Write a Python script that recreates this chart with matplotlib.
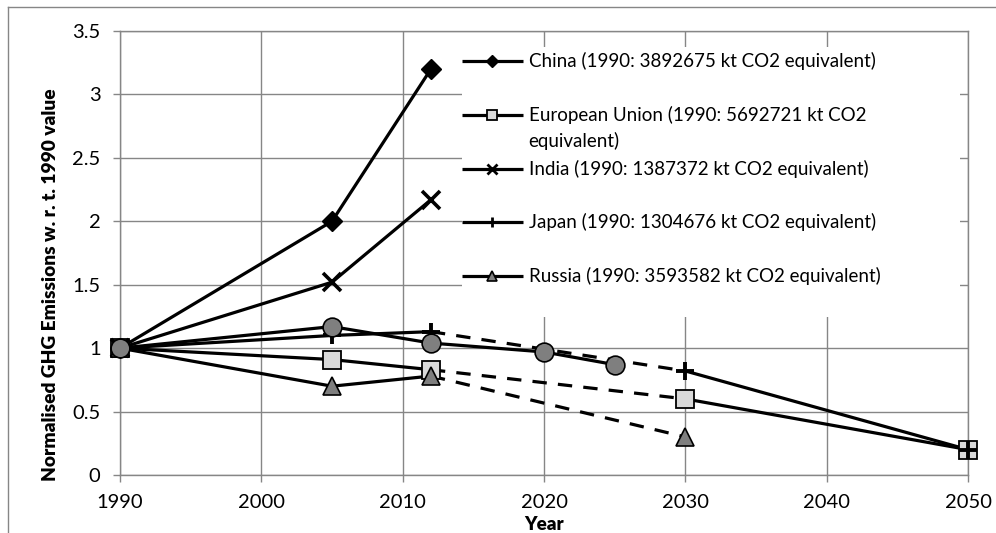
import matplotlib
matplotlib.use("Agg")
from matplotlib import pyplot as plt
from matplotlib.lines import Line2D
from matplotlib.patches import Rectangle

plt.rcParams['font.family'] = ['Lato', 'DejaVu Sans']

# normalised GHG emissions (1990 = 1)
years_china = [1990, 2005, 2012]
china = [1.0, 2.0, 3.2]
years_india = [1990, 2005, 2012]
india = [1.0, 1.52, 2.17]
years_eu = [1990, 2005, 2012, 2030, 2050]
eu = [1.0, 0.91, 0.83, 0.60, 0.20]
years_japan = [1990, 2005, 2012, 2030, 2050]
japan = [1.0, 1.10, 1.13, 0.82, 0.20]
years_russia = [1990, 2005, 2012, 2030]
russia = [1.0, 0.70, 0.78, 0.30]
years_usa = [1990, 2005, 2012, 2020, 2025]
usa = [1.0, 1.17, 1.04, 0.97, 0.87]

labels = ["China (1990: 3892675 kt CO2 equivalent)",
          "European Union (1990: 5692721 kt CO2",
          "India (1990: 1387372 kt CO2 equivalent)",
          "Japan (1990: 1304676 kt CO2 equivalent)",
          "Russia (1990: 3593582 kt CO2 equivalent)"]

xticks = [1990, 2000, 2010, 2020, 2030, 2040, 2050]
yticks = [0, 0.5, 1, 1.5, 2, 2.5, 3, 3.5]
yticklabels = ["0", "0.5", "1", "1.5", "2", "2.5", "3", "3.5"]

GRAY = "#868686"
LW = 2.3
FS = 13.5

fig = plt.figure(figsize=(9.96, 5.33), dpi=100)
ax = fig.add_axes([120/996, 1-475/533, 848/996, 444/533])

# outer chart frame (cropped on right/bottom)
fig.add_artist(Line2D([8/996, 8/996], [0, 1-7/533], color=GRAY, lw=1))
fig.add_artist(Line2D([8/996, 1], [1-7/533, 1-7/533], color=GRAY, lw=1))

styles = {
    "china": dict(marker="D", ms=10.5, mfc="black", mec="black", mew=1),
    "eu": dict(marker="s", ms=12.5, mfc="#d9d9d9", mec="black", mew=1.3),
    "india": dict(marker="x", ms=13, mfc="black", mec="black", mew=2.6),
    "japan": dict(marker="+", ms=13, mfc="black", mec="black", mew=2.8),
    "russia": dict(marker="^", ms=13.5, mfc="#7f7f7f", mec="black", mew=1.2),
    "usa": dict(marker="o", ms=13.5, mfc="#7f7f7f", mec="black", mew=1.2),
}

def draw(x, y, key, dashed=()):
    # solid / dashed segments, then markers
    for i in range(len(x) - 1):
        ls = (0, (4.5, 3.5)) if i in dashed else "-"
        ax.plot(x[i:i+2], y[i:i+2], color="black", lw=LW, ls=ls,
                solid_capstyle="butt", dash_capstyle="butt", zorder=3)
    ax.plot(x, y, ls="none", zorder=4, clip_on=False, **styles[key])

draw(years_china, china, "china")
draw(years_eu, eu, "eu", dashed=(2,))
draw(years_india, india, "india")
draw(years_japan, japan, "japan", dashed=(2,))
draw(years_russia, russia, "russia", dashed=(2,))
draw(years_usa, usa, "usa")

ax.set_xlim(1990, 2050)
ax.set_ylim(0, 3.5)
ax.set_xticks(xticks)
ax.set_yticks(yticks)
ax.set_yticklabels(yticklabels)
ax.tick_params(axis="both", colors=GRAY, labelcolor="black", labelsize=14.5,
               length=5, width=1)
ax.tick_params(axis="x", pad=9)
ax.tick_params(axis="y", pad=9)
ax.set_axisbelow(True)
ax.grid(True, color=GRAY, lw=1)
for s in ax.spines.values():
    s.set_color(GRAY)
    s.set_linewidth(1)

ax.set_xlabel("Year", fontsize=13.5, fontweight="heavy", va="top")
ax.xaxis.set_label_coords(0.5, -0.092)
ax.set_ylabel("Normalised GHG Emissions w. r. t. 1990 value", fontsize=13.8,
              fontweight="heavy", va="center")
ax.yaxis.set_label_coords(-0.0825, 0.428)

# legend box, drawn by hand to match the wrapped label layout
ax.add_patch(Rectangle((0.403, 0.356), 0.588, 0.608, transform=ax.transAxes,
                       facecolor="white", edgecolor="none", zorder=1))
rows = [0.932, 0.811, 0.690, 0.570, 0.448]
keys = ["china", "eu", "india", "japan", "russia"]
small = {"china": 6, "eu": 7, "india": 6.5, "japan": 7, "russia": 7}
for y, key, lab in zip(rows, keys, labels):
    st = dict(styles[key])
    st["ms"] = small[key]
    st["mew"] = min(st["mew"], 2.0)
    ax.plot([0.403, 0.475], [y, y], color="black", lw=LW, transform=ax.transAxes,
            solid_capstyle="butt", zorder=2)
    ax.plot([0.439], [y], ls="none", transform=ax.transAxes, zorder=2, **st)
    ax.text(0.482, y, lab, transform=ax.transAxes, va="center", ha="left",
            fontsize=FS, zorder=2)
ax.text(0.482, 0.752, "equivalent)", transform=ax.transAxes, va="center",
        ha="left", fontsize=FS, zorder=2)

fig.savefig("out.png", dpi=100)
